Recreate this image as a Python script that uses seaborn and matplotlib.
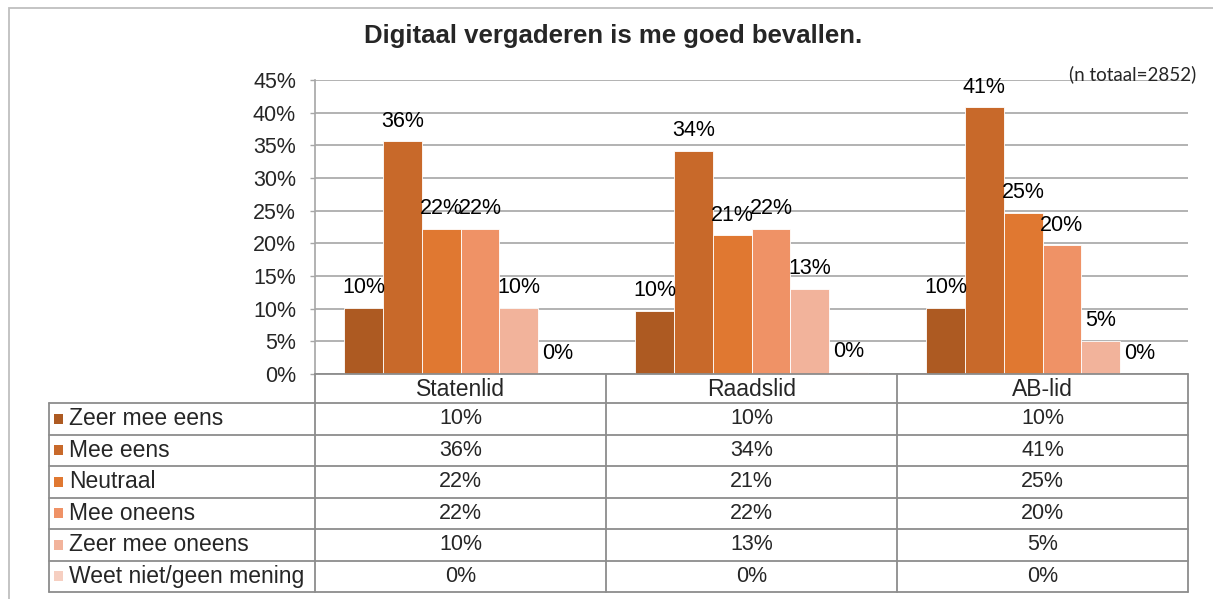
import matplotlib
matplotlib.use("Agg")
import matplotlib.pyplot as plt
import seaborn as sns
import pandas as pd
from matplotlib.patches import Rectangle
from matplotlib.lines import Line2D

groepen = ["Statenlid", "Raadslid", "AB-lid"]
antwoorden = ["Zeer mee eens", "Mee eens", "Neutraal", "Mee oneens",
              "Zeer mee oneens", "Weet niet/geen mening"]
statenlid = [10.1, 35.6, 22.2, 22.2, 10.1, 0.0]
raadslid = [9.7, 34.1, 21.2, 22.2, 13.0, 0.3]
ab_lid = [10.1, 40.8, 24.7, 19.7, 5.1, 0.0]
kleuren = ["#AD5A22", "#C8692A", "#E07831", "#EF9266", "#F2B39B", "#F6CFC1"]
titel = "Digitaal vergaderen is me goed bevallen."
n_tekst = "(n totaal=2852)"
y_ticks = [0, 5, 10, 15, 20, 25, 30, 35, 40, 45]

W, H = 1213, 599


def fx(x):
    return x / W


def fy(y):
    return 1 - y / H


def pct(v):
    return f"{v:.0f}%"


sns.set_style("white")
plt.rcParams['font.family'] = ['Liberation Sans', 'DejaVu Sans']

rows = []
for g, vals in zip(groepen, [statenlid, raadslid, ab_lid]):
    for a, v in zip(antwoorden, vals):
        rows.append({"groep": g, "antwoord": a, "pct": v})
df = pd.DataFrame(rows)

fig = plt.figure(figsize=(W / 100, H / 100), dpi=100)
ax = fig.add_axes([fx(315), fy(374), fx(1188) - fx(315), fy(80) - fy(374)])

sns.barplot(data=df, x="groep", y="pct", hue="antwoord", hue_order=antwoorden,
            order=groepen, palette=kleuren, saturation=1, width=0.8,
            edgecolor="white", linewidth=0.6, legend=False, ax=ax, zorder=3)

for cont in ax.containers:
    ax.bar_label(cont, labels=[pct(b.get_height()) for b in cont],
                 padding=7, fontsize=15.5, color="black", zorder=4)

ax.set_ylim(0, 45)
ax.set_xlim(-0.5, 2.5)
ax.set_yticks(y_ticks)
ax.set_yticklabels([f"{t}%" for t in y_ticks], fontsize=15.5)
ax.yaxis.grid(True, color="#A6A6A6", linewidth=1.2, zorder=0)
ax.set_xlabel("")
ax.set_ylabel("")
ax.tick_params(axis="y", left=True, length=3.6, width=1, color="#A6A6A6", pad=10)
ax.tick_params(axis="x", length=0, pad=3, labelsize=16.5)
for s in ["top", "right", "bottom"]:
    ax.spines[s].set_visible(False)
ax.spines["left"].set_color("#A6A6A6")
ax.spines["left"].set_linewidth(1.2)

# titel en n
fig.text(fx(613), fy(36), titel, ha="center", va="center",
         fontsize=18.5, fontweight="bold")
fig.text(fx(1196), fy(74), n_tekst, ha="right", va="center",
         fontsize=13.5, family=["Lato", "DejaVu Sans"])

# buitenrand
fig.add_artist(Rectangle((fx(9), fy(640)), fx(1240) - fx(9), fy(8) - fy(640),
                         fill=False, edgecolor="#BFBFBF", linewidth=1.3,
                         transform=fig.transFigure))

# datatabel
lijn = dict(color="#8C8C8C", linewidth=1.3, transform=fig.transFigure)
kolommen = [315, 606, 897, 1188]
rij_top = 403
rij_h = 31.5
rij_grenzen = [rij_top + i * rij_h for i in range(len(antwoorden) + 1)]
for yb in rij_grenzen:
    fig.add_artist(Line2D([fx(49), fx(1188)], [fy(yb), fy(yb)], **lijn))
fig.add_artist(Line2D([fx(315), fx(1188)], [fy(374), fy(374)], **lijn))
fig.add_artist(Line2D([fx(49), fx(49)], [fy(rij_top), fy(rij_grenzen[-1])], **lijn))
for xk in kolommen:
    fig.add_artist(Line2D([fx(xk), fx(xk)], [fy(374), fy(rij_grenzen[-1])], **lijn))

tabel = list(zip(statenlid, raadslid, ab_lid))
for i, (a, kleur, waarden) in enumerate(zip(antwoorden, kleuren, tabel)):
    yc = rij_top + (i + 0.5) * rij_h
    fig.add_artist(Rectangle((fx(54), fy(yc + 5)), fx(63) - fx(54), fy(yc - 5) - fy(yc + 5),
                             facecolor=kleur, edgecolor="none",
                             transform=fig.transFigure))
    fig.text(fx(69), fy(yc), a, ha="left", va="center", fontsize=16.5)
    for j, v in enumerate(waarden):
        xc = (kolommen[j] + kolommen[j + 1]) / 2
        fig.text(fx(xc), fy(yc), pct(v), ha="center", va="center", fontsize=15.5)

fig.savefig("out.png", dpi=100)
